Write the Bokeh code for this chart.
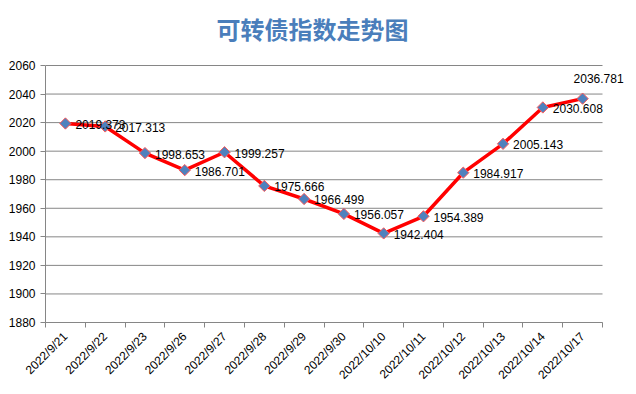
import math
from bokeh.plotting import figure
from bokeh.models import FixedTicker, Range1d, ColumnDataSource, Label
from bokeh.core.properties import value
from bokeh.embed import file_html
from bokeh.resources import INLINE

title_text = "可转债指数走势图"
dates = ["2022/9/21", "2022/9/22", "2022/9/23", "2022/9/26", "2022/9/27", "2022/9/28",
         "2022/9/29", "2022/9/30", "2022/10/10", "2022/10/11", "2022/10/12",
         "2022/10/13", "2022/10/14", "2022/10/17"]
index_values = [2019.373, 2017.313, 1998.653, 1986.701, 1999.257, 1975.666, 1966.499,
                1956.057, 1942.404, 1954.389, 1984.917, 2005.143, 2030.608, 2036.781]
y_ticks = [1880, 1900, 1920, 1940, 1960, 1980, 2000, 2020, 2040, 2060]

n = len(dates)
xs = [i + 0.5 for i in range(n)]
labels = ["%.3f" % v for v in index_values]

src = ColumnDataSource(dict(x=xs, y=index_values, lab=labels))
src_main = ColumnDataSource(dict(x=xs[:-1], y=index_values[:-1], lab=labels[:-1]))
src_last = ColumnDataSource(dict(x=xs[-1:], y=index_values[-1:], lab=labels[-1:]))

# layout (pixels)
W, H = 636, 394
left, bottom = 45, 72
plot_top, plot_right = 65, 602
frame_h = H - bottom            # frame spans from canvas top to x axis
y0, y1 = y_ticks[0], y_ticks[-1]
units_per_px = (y1 - y0) / (frame_h - plot_top)
y_end = y1 + plot_top * units_per_px
x_per_px = n / (plot_right - left)
x_end = (W - left) * x_per_px

p = figure(width=W, height=H, output_backend="svg", toolbar_location=None,
           x_range=Range1d(0, x_end), y_range=Range1d(y0, y_end),
           min_border_left=left, min_border_right=0, min_border_top=0,
           min_border_bottom=bottom)
p.outline_line_color = None
p.background_fill_color = "white"
p.border_fill_color = "white"

# title, placed in the blank area above the plot
title_cx, title_cy = 312, 28
p.add_layout(Label(x=(title_cx - left) * x_per_px, y=y1 + (plot_top - title_cy) * units_per_px,
                   text=title_text, text_font="Noto Sans CJK SC", text_font_size="24px",
                   text_font_style="bold", text_color="#4a7ebb",
                   text_align="center", text_baseline="middle"))

# axes
p.xaxis.ticker = FixedTicker(ticks=xs, minor_ticks=list(range(n + 1)))
p.xaxis.bounds = (0, n)
p.xaxis.major_label_overrides = {x: d for x, d in zip(xs, dates)}
p.xaxis.major_label_orientation = math.pi / 4
p.xaxis.major_tick_out = 0
p.xaxis.major_tick_in = 0
p.xaxis.minor_tick_out = 5
p.xaxis.minor_tick_in = 0
p.xaxis.axis_line_color = "#868686"
p.xaxis.minor_tick_line_color = "#868686"
p.xaxis.major_label_text_font = "Liberation Sans"
p.xaxis.major_label_text_font_size = "12px"
p.xaxis.major_label_text_color = "black"
p.xaxis.major_label_standoff = 7

p.yaxis.ticker = FixedTicker(ticks=y_ticks)
p.yaxis.bounds = (y0, y1)
p.yaxis.major_tick_out = 5
p.yaxis.major_tick_in = 0
p.yaxis.minor_tick_line_color = None
p.yaxis.axis_line_color = "#868686"
p.yaxis.major_tick_line_color = "#868686"
p.yaxis.major_label_text_font = "Liberation Sans"
p.yaxis.major_label_text_font_size = "12px"
p.yaxis.major_label_text_color = "black"
p.yaxis.major_label_standoff = 5

p.xgrid.grid_line_color = None
p.ygrid.grid_line_color = None

# horizontal gridlines spanning only the categories
p.segment(x0=[0] * len(y_ticks), x1=[n] * len(y_ticks), y0=y_ticks, y1=y_ticks,
          line_color="#868686", line_width=1)

p.line("x", "y", source=src, line_color="#ff0000", line_width=3.5)
p.scatter("x", "y", source=src, marker="square", angle=math.pi / 4, size=8,
          fill_color="#4f81bd", line_color="#ff5a5a", line_width=1)

p.text("x", "y", text="lab", source=src_main, x_offset=10, y_offset=1,
       text_font=value("Liberation Sans"), text_font_size="12px", text_color="black",
       text_baseline="middle", text_align="left")
p.text("x", "y", text="lab", source=src_last, x_offset=16, y_offset=-20,
       text_font=value("Liberation Sans"), text_font_size="12px", text_color="black",
       text_baseline="middle", text_align="center")

open("out.html", "w").write(file_html(p, INLINE))
